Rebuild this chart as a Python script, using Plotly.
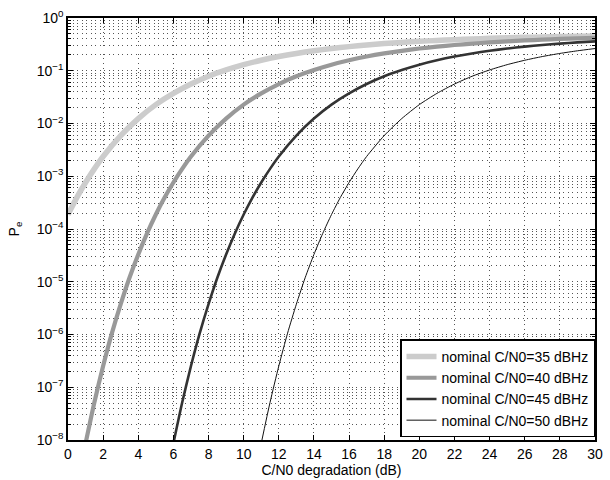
import plotly.graph_objects as go

# C/N0 degradation (dB) and error probability for each nominal C/N0
x_35 = [0, 0.5, 1, 1.5, 2, 3, 4, 5, 6, 7, 8, 9, 10, 11, 12, 13, 14, 15, 16, 17,
        18, 19, 20, 21, 22, 23, 24, 25, 26, 27, 28, 29, 30]
pe_35 = [1.88e-4, 3.94e-4, 7.62e-4, 1.38e-3, 2.37e-3, 5.90e-3, 0.0124, 0.0228,
         0.0372, 0.0560, 0.0786, 0.1034, 0.1305, 0.1581, 0.1859, 0.2130, 0.2389,
         0.2637, 0.2865, 0.3077, 0.3271, 0.3449, 0.3611, 0.3756, 0.3888, 0.4006,
         0.4112, 0.4207, 0.4294, 0.4370, 0.4438, 0.4499, 0.4553]

x_40 = [1, 1.5, 2, 2.5, 3, 3.5, 4, 4.5, 5, 5.5, 6, 6.5, 7, 8, 9, 10, 11, 12, 13,
        14, 15, 16, 17, 18, 19, 20, 21, 22, 23, 24, 25, 26, 27, 28, 29, 30]
pe_40 = [8.65e-9, 5.15e-8, 2.53e-7, 1.06e-6, 3.76e-6, 1.19e-5, 3.29e-5, 8.24e-5,
         1.88e-4, 3.94e-4, 7.62e-4, 1.38e-3, 2.37e-3, 5.90e-3, 0.0124, 0.0228,
         0.0372, 0.0560, 0.0786, 0.1034, 0.1305, 0.1581, 0.1859, 0.2130, 0.2389,
         0.2637, 0.2865, 0.3077, 0.3271, 0.3449, 0.3611, 0.3756, 0.3888, 0.4006,
         0.4112, 0.4207]

x_45 = [6, 6.5, 7, 7.5, 8, 8.5, 9, 9.5, 10, 10.5, 11, 11.5, 12, 13, 14, 15, 16,
        17, 18, 19, 20, 21, 22, 23, 24, 25, 26, 27, 28, 29, 30]
pe_45 = [8.65e-9, 5.15e-8, 2.53e-7, 1.06e-6, 3.76e-6, 1.19e-5, 3.29e-5, 8.24e-5,
         1.88e-4, 3.94e-4, 7.62e-4, 1.38e-3, 2.37e-3, 5.90e-3, 0.0124, 0.0228,
         0.0372, 0.0560, 0.0786, 0.1034, 0.1305, 0.1581, 0.1859, 0.2130, 0.2389,
         0.2637, 0.2865, 0.3077, 0.3271, 0.3449, 0.3611]

x_50 = [11, 11.5, 12, 12.5, 13, 13.5, 14, 14.5, 15, 15.5, 16, 16.5, 17, 18, 19,
        20, 21, 22, 23, 24, 25, 26, 27, 28, 29, 30]
pe_50 = [8.65e-9, 5.15e-8, 2.53e-7, 1.06e-6, 3.76e-6, 1.19e-5, 3.29e-5, 8.24e-5,
         1.88e-4, 3.94e-4, 7.62e-4, 1.38e-3, 2.37e-3, 5.90e-3, 0.0124, 0.0228,
         0.0372, 0.0560, 0.0786, 0.1034, 0.1305, 0.1581, 0.1859, 0.2130, 0.2389,
         0.2637]

series_names = ["nominal C/N0=35 dBHz", "nominal C/N0=40 dBHz",
                "nominal C/N0=45 dBHz", "nominal C/N0=50 dBHz"]

x_ticks = list(range(0, 31, 2))
y_exponents = [-8, -7, -6, -5, -4, -3, -2, -1, 0]
y_tick_text = ["10<sup>\u2212%d</sup>" % -e if e < 0 else "10<sup>0</sup>" for e in y_exponents]

FONT = "Liberation Sans, Arial, sans-serif"

styles = [("#cccccc", 5.5), ("#999999", 4.2), ("#333333", 2.6), ("#111111", 1.0)]
xs = [x_35, x_40, x_45, x_50]
ys = [pe_35, pe_40, pe_45, pe_50]

fig = go.Figure()
for name, xv, yv, (col, w) in zip(series_names, xs, ys, styles):
    fig.add_trace(go.Scatter(
        x=xv, y=yv, mode="lines", name=name,
        line=dict(color=col, width=w, shape="spline", smoothing=0.6),
    ))

minor_y = [m * 10.0 ** e for e in range(-8, 0) for m in range(2, 10)]

grid_dash = "1px,3.5px"
grid_col = "#555555"

fig.update_layout(
    width=610, height=480,
    margin=dict(l=68, r=7, t=18, b=40),
    paper_bgcolor="white", plot_bgcolor="white",
    font=dict(family=FONT, size=14, color="black"),
    showlegend=True,
    legend=dict(
        x=1, xanchor="right", y=0.006, yanchor="bottom",
        bgcolor="white", bordercolor="black", borderwidth=1.5,
        font=dict(family=FONT, size=14, color="black"),
        tracegroupgap=0, itemwidth=30,
    ),
    xaxis=dict(
        range=[0, 30], tickvals=x_ticks, ticks="inside", ticklen=5,
        tickcolor="black", showline=True, linecolor="black", linewidth=1.5,
        mirror="allticks", showgrid=True, gridcolor=grid_col, gridwidth=1,
        griddash=grid_dash, zeroline=False,
        title=dict(text="C/N0 degradation (dB)", standoff=2,
                   font=dict(family=FONT, size=14)),
        tickfont=dict(family=FONT, size=14),
    ),
    yaxis=dict(
        type="log", range=[-8, 0],
        tickvals=[10.0 ** e for e in y_exponents], ticktext=y_tick_text,
        ticks="inside", ticklen=5, tickcolor="black",
        showline=True, linecolor="black", linewidth=1.5, mirror="allticks",
        showgrid=True, gridcolor=grid_col, gridwidth=1, griddash=grid_dash,
        zeroline=False,
        minor=dict(tickvals=minor_y, ticks="inside", ticklen=3,
                   tickcolor="black", showgrid=True, gridcolor=grid_col,
                   gridwidth=1, griddash=grid_dash),
        title=dict(text="P<sub>e</sub>", standoff=14,
                   font=dict(family=FONT, size=14)),
        tickfont=dict(family=FONT, size=14),
    ),
)

fig.write_html("out.html")
